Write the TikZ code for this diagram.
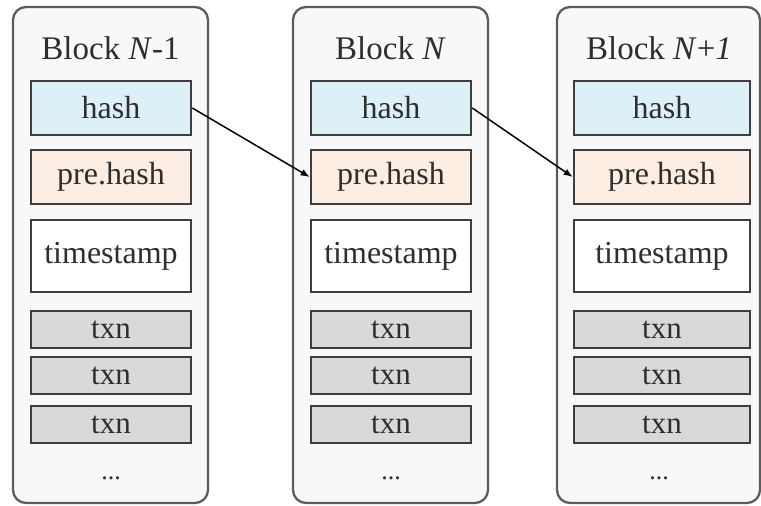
\documentclass[tikz,border=0pt]{standalone}
\usepackage{fontspec}
\setmainfont{Liberation Serif}
\usetikzlibrary{arrows.meta}
\definecolor{outerfill}{HTML}{F8F8F8}
\definecolor{outerline}{HTML}{5C5C5C}
\definecolor{cellline}{HTML}{3E3E3E}
\definecolor{hashfill}{HTML}{DDF0F8}
\definecolor{prefill}{HTML}{FCEEE2}
\definecolor{txnfill}{HTML}{D9D9D9}
\definecolor{textcol}{HTML}{2E2E2E}
\begin{document}
\begin{tikzpicture}[x=1pt,y=-1pt,
  blockbox/.style={draw=outerline, line width=2.3pt, fill=outerfill, rounded corners=13pt},
  titletext/.style={text=textcol, inner sep=0pt, font=\fontsize{33}{33}\selectfont},
  cell/.style={draw=cellline, line width=2.6pt, inner sep=0pt, text=textcol, font=\fontsize{32}{32}\selectfont},
  hashbox/.style={cell, fill=hashfill, minimum height=54pt},
  prebox/.style={cell, fill=prefill, minimum height=54pt},
  timebox/.style={cell, fill=white, minimum height=72pt},
  txnbox/.style={cell, fill=txnfill, minimum height=37pt, font=\fontsize{31}{31}\selectfont},
  dotstext/.style={text=textcol, inner sep=0pt, font=\fontsize{26}{26}\selectfont},
  link/.style={draw=black, line width=1.5pt, -{Latex[length=9pt,width=7pt]}}
]
\useasboundingbox (0,0) rectangle (761,506);

% outer block frames
\draw[blockbox] (13,7) rectangle (208,503);
\draw[blockbox] (293,7) rectangle (488,503);
\draw[blockbox] (557,7) rectangle (760,503);

% Block N-1
\node[titletext] (t1) at (110.5,48) {Block \textit{N}-1};
\node[hashbox, minimum width=160pt] (h1) at (111,108) {hash};
\node[prebox, minimum width=160pt] (p1) at (111,177) {pre.hash};
\node[timebox, minimum width=160pt] (s1) at (111,256) {timestamp};
\node[txnbox, minimum width=160pt] (a1) at (111,329.5) {txn};
\node[txnbox, minimum width=160pt] (b1) at (111,375.5) {txn};
\node[txnbox, minimum width=160pt] (c1) at (111,424.5) {txn};
\node[dotstext] (d1) at (111,478) {...};

% Block N
\node[titletext] (t2) at (390.5,48) {Block \textit{N}};
\node[hashbox, minimum width=160pt] (h2) at (391,108) {hash};
\node[prebox, minimum width=160pt] (p2) at (391,177) {pre.hash};
\node[timebox, minimum width=160pt] (s2) at (391,256) {timestamp};
\node[txnbox, minimum width=160pt] (a2) at (391,329.5) {txn};
\node[txnbox, minimum width=160pt] (b2) at (391,375.5) {txn};
\node[txnbox, minimum width=160pt] (c2) at (391,424.5) {txn};
\node[dotstext] (d2) at (391,478) {...};

% Block N+1
\node[titletext] (t3) at (659,48) {Block \textit{N}+\textit{1}};
\node[hashbox, minimum width=176pt] (h3) at (662,108) {hash};
\node[prebox, minimum width=176pt] (p3) at (662,177) {pre.hash};
\node[timebox, minimum width=176pt] (s3) at (662,256) {timestamp};
\node[txnbox, minimum width=176pt] (a3) at (662,329.5) {txn};
\node[txnbox, minimum width=176pt] (b3) at (662,375.5) {txn};
\node[txnbox, minimum width=176pt] (c3) at (662,424.5) {txn};
\node[dotstext] (d3) at (659,478) {...};

% links
\draw[link] (h1.east) -- (p2.west);
\draw[link] (h2.east) -- (p3.west);
\end{tikzpicture}
\end{document}
